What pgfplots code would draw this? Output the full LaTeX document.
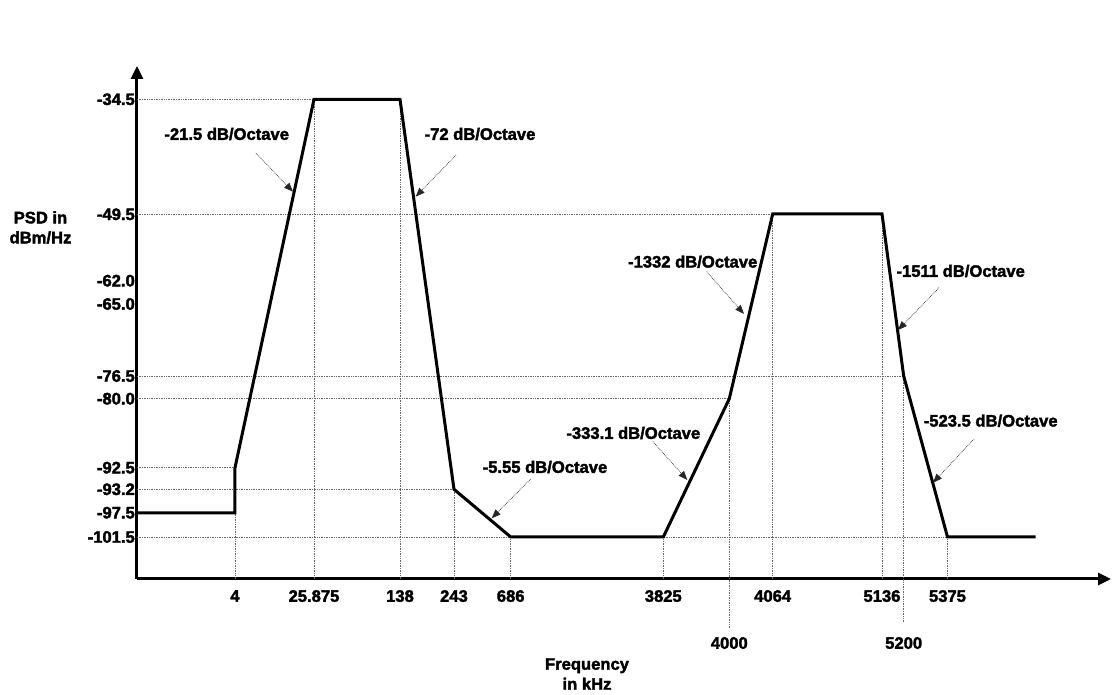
\documentclass[border=0pt]{standalone}
\usepackage{pgfplots}
\pgfplotsset{compat=1.18}
\usepackage{pgfplotstable}
\usepackage{fontspec}
\setmainfont{Liberation Sans}[BoldFont={Liberation Sans Bold}, BoldFeatures={FakeBold=2.2}]
\usetikzlibrary{arrows.meta}

% Schematic PSD mask: the axes are not to scale, so every break point is
% placed at a layout position and the tick labels carry the frequency (kHz)
% and PSD (dBm/Hz) values.
\pgfplotstableread{
x      y
137    182
235    182
235    227.3
314    595.7
400    595.7
454    205.7
510.7  158
663.3  158
729.3  296.3
772.7  481
882    481
903.7  319
947.5  158
1035.5 158
}\maskcurve

\newcommand{\lbl}{\bfseries\fontsize{16.6}{20}\selectfont}

\begin{document}
\begin{tikzpicture}[
  gridline/.style={densely dotted, gray!80!black, line width=0.7pt},
  note/.style={densely dotted, line width=0.7pt, black!85, -{Triangle[length=9pt,width=7pt]}},
  notetext/.style={font=\lbl, inner sep=0pt}
]
\begin{axis}[
  scale only axis,
  width=974pt, height=513pt,
  xmin=137, xmax=1111,
  ymin=116, ymax=629,
  axis x line=bottom, axis y line=left,
  axis line style={line width=3pt, -{Triangle[length=13pt,width=12pt]}},
  clip=false,
  major tick length=0pt,
  tick style={draw=none},
  /pgf/number format/assume math mode=true,
  xtick={235,314,400,454,510.7,663.3,772.7,882,947.5},
  xticklabels={4,25.875,138,243,686,3825,4064,5136,5375},
  xticklabel style={font=\lbl, inner sep=0pt, anchor=north, yshift=-11pt},
  extra x ticks={729.3,903.7},
  extra x tick labels={4000,5200},
  extra x tick style={xticklabel style={yshift=-47pt}},
  ytick={158,182.3,205.7,227.3,296.3,319,391,414.3,480.7,595.7},
  yticklabels={-101.5,-97.5,-93.2,-92.5,-80.0,-76.5,-65.0,-62.0,-49.5,-34.5},
  yticklabel style={font=\lbl, inner sep=0pt, anchor=east, xshift=-2pt},
]
% horizontal guide lines from the PSD axis to each break point
\addplot[gridline] coordinates {(137,595.7) (400,595.7)};
\addplot[gridline] coordinates {(137,480.7) (882,480.7)};
\addplot[gridline] coordinates {(137,319) (903.7,319)};
\addplot[gridline] coordinates {(137,296.3) (729.3,296.3)};
\addplot[gridline] coordinates {(137,227.3) (235,227.3)};
\addplot[gridline] coordinates {(137,205.7) (454,205.7)};
\addplot[gridline] coordinates {(137,158) (947.5,158)};
% vertical guide lines from the frequency axis to each break point
\addplot[gridline] coordinates {(235,116) (235,182)};
\addplot[gridline] coordinates {(314,116) (314,595.7)};
\addplot[gridline] coordinates {(400,116) (400,595.7)};
\addplot[gridline] coordinates {(454,116) (454,205.7)};
\addplot[gridline] coordinates {(510.7,116) (510.7,158)};
\addplot[gridline] coordinates {(663.3,116) (663.3,158)};
\addplot[gridline] coordinates {(729.3,67) (729.3,296.3)};
\addplot[gridline] coordinates {(772.7,116) (772.7,481)};
\addplot[gridline] coordinates {(882,116) (882,481)};
\addplot[gridline] coordinates {(903.7,73) (903.7,319)};
\addplot[gridline] coordinates {(947.5,116) (947.5,158)};

% the PSD mask
\addplot[black, line width=3pt, line join=miter] table[x=x, y=y] {\maskcurve};

% slope annotations
\node[notetext] at (axis cs:226.7,561) {-21.5 dB/Octave};
\draw[note] (axis cs:256,541.7) -- (axis cs:293,503.3);
\node[notetext] at (axis cs:480,561) {-72 dB/Octave};
\draw[note] (axis cs:456,540) -- (axis cs:415.7,498.3);
\node[notetext] at (axis cs:545,228) {-5.55 dB/Octave};
\draw[note] (axis cs:530.7,216) -- (axis cs:491.7,176.7);
\node[notetext] at (axis cs:633.3,262) {-333.1 dB/Octave};
\draw[note] (axis cs:653,253.3) -- (axis cs:687.3,215);
\node[notetext] at (axis cs:692.7,433.3) {-1332 dB/Octave};
\draw[note] (axis cs:706.7,423.3) -- (axis cs:744,381);
\node[notetext] at (axis cs:960.7,424) {-1511 dB/Octave};
\draw[note] (axis cs:939,407.3) -- (axis cs:898,365);
\node[notetext] at (axis cs:990.7,274.3) {-523.5 dB/Octave};
\draw[note] (axis cs:974,256) -- (axis cs:933,212.3);

% axis titles
\node[font=\lbl, align=center, inner sep=0pt] at (axis cs:40.5,467.5) {PSD in\\dBm/Hz};
\node[font=\lbl, align=center, inner sep=0pt] at (axis cs:587,21) {Frequency\\in kHz};

\coordinate (bbsw) at (axis cs:0,0);
\coordinate (bbne) at (axis cs:1112,695);
\end{axis}
\pgfresetboundingbox
\path[use as bounding box] (bbsw) rectangle (bbne);
\end{tikzpicture}
\end{document}
